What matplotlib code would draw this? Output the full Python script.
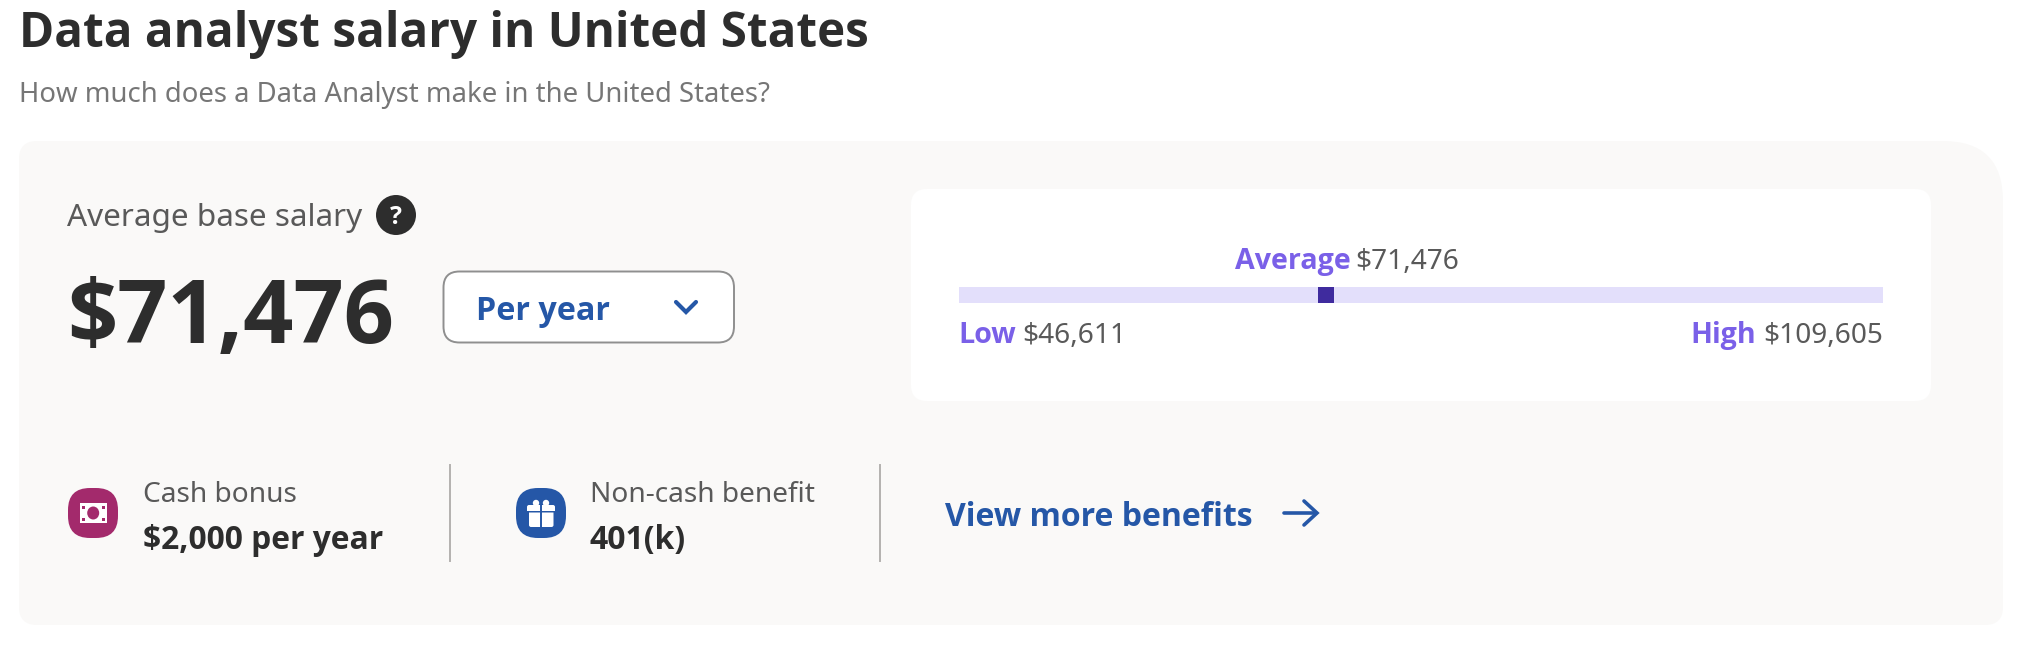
import matplotlib
matplotlib.use("Agg")
import matplotlib.pyplot as plt
from matplotlib.patches import Circle, Ellipse, PathPatch, Rectangle
from matplotlib.path import Path

# Salary values
low_salary = 46611
average_salary = 71476
high_salary = 109605

# Texts
title = "Data analyst salary in United States"
subtitle = "How much does a Data Analyst make in the United States?"
period = "Per year"
bonus_label = "Cash bonus"
bonus_value = "$2,000 per year"
benefit_label = "Non-cash benefit"
benefit_value = "401(k)"
more_link = "View more benefits"

# Colors
DARK = "#2d2d2d"
GRAY = "#767676"
TEXT = "#595959"
CARD = "#faf9f8"
PURPLE = "#7a60e8"
TRACK = "#e3dffb"
MARKER = "#3f2b9e"
BLUE = "#2557a7"
MAGENTA = "#a32a6c"
LINE = "#b4b2b0"

W, H = 2032, 648
plt.rcParams["font.family"] = ["Noto Sans", "DejaVu Sans"]

fig = plt.figure(figsize=(W / 100, H / 100), dpi=100, facecolor="white")

# full figure axes in pixel coordinates, y pointing down
ax = fig.add_axes([0, 0, 1, 1])
ax.set_xlim(0, W)
ax.set_ylim(H, 0)
ax.axis("off")


def round_box(x0, y0, x1, y1, radii, **kw):
    # radii: top left, top right, bottom right, bottom left
    tl, tr, br, bl = radii
    verts = [(x0 + tl, y0), (x1 - tr, y0), (x1, y0), (x1, y0 + tr),
             (x1, y1 - br), (x1, y1), (x1 - br, y1),
             (x0 + bl, y1), (x0, y1), (x0, y1 - bl),
             (x0, y0 + tl), (x0, y0), (x0 + tl, y0), (x0 + tl, y0)]
    codes = [Path.MOVETO, Path.LINETO, Path.CURVE3, Path.CURVE3,
             Path.LINETO, Path.CURVE3, Path.CURVE3,
             Path.LINETO, Path.CURVE3, Path.CURVE3,
             Path.LINETO, Path.CURVE3, Path.CURVE3, Path.CLOSEPOLY]
    patch = PathPatch(Path(verts, codes), **kw)
    ax.add_patch(patch)
    return patch


def label(x, y, s, size, color=TEXT, bold=False, ha="left"):
    # the installed Noto Sans has no bold face, Open Sans Bold is the closest
    if bold:
        ax.text(x, y, s, fontsize=size, color=color, family="Open Sans", fontweight="bold", ha=ha, va="baseline")
    else:
        ax.text(x, y, s, fontsize=size, color=color, ha=ha, va="baseline")


# Heading
label(19, 47, title, 34.25, DARK, True)
label(19, 102, subtitle, 19.8, GRAY)

# Card and white panel
round_box(19, 141, 2003, 625, (18, 60, 18, 18), facecolor=CARD, edgecolor="none")
round_box(911, 189, 1931, 401, (16, 16, 16, 16), facecolor="white", edgecolor="none")

# Left part
label(67, 226, "Average base salary", 22.7, TEXT)
ax.add_patch(Circle((396, 215), 20, facecolor=DARK, edgecolor="none"))
label(396, 224, "?", 18, "white", True, ha="center")
label(67, 343, f"${average_salary:,}", 63.4, DARK, True)

# Dropdown
round_box(443.5, 271.5, 734, 342.5, (16, 16, 16, 16), facecolor="white", edgecolor="#8f8f8f", linewidth=1.4)
label(476, 320, period, 23.2, BLUE, True)
ax.plot([676, 686, 696], [302, 312, 302], color=BLUE, lw=3, solid_capstyle="round", solid_joinstyle="miter")

# Salary range bar, drawn on its own axes so the marker follows the values
bar_ax = fig.add_axes([959 / W, 1 - 303 / H, (1883 - 959) / W, 16 / H])
bar_ax.set_xlim(low_salary, high_salary)
bar_ax.set_ylim(0, 1)
bar_ax.axis("off")
bar_ax.barh(0, high_salary - low_salary, left=low_salary, height=1, align="edge", color=TRACK)
marker_w = (high_salary - low_salary) * 16 / 924
bar_ax.barh(0, marker_w, left=average_salary - 0.35 * marker_w, height=1, align="edge", color=MARKER)

label(1235, 269, "Average", 20.6, PURPLE, True)
label(1355.5, 269, f"${average_salary:,}", 20.2, TEXT)
label(958, 343, "Low", 20.6, PURPLE, True)
label(1022, 343, f"${low_salary:,}", 20.2, TEXT)
label(1690, 343, "High", 20.6, PURPLE, True)
label(1883, 343, f"${high_salary:,}", 20.2, TEXT, ha="right")

# Benefits row
round_box(68, 488, 118, 538, (22, 22, 22, 22), facecolor=MAGENTA, edgecolor="none")
ax.add_patch(Rectangle((79.5, 503), 27.5, 20, facecolor="white", edgecolor="none"))
ax.add_patch(Rectangle((82, 505.5), 22.5, 15, facecolor=MAGENTA, edgecolor="none"))
ax.add_patch(Rectangle((84.5, 505.5), 17.5, 15, facecolor="white", edgecolor="none"))
ax.add_patch(Rectangle((82, 508.5), 22.5, 9, facecolor="white", edgecolor="none"))
ax.add_patch(Ellipse((93.2, 513), 12, 13, facecolor=MAGENTA, edgecolor="none"))
label(143, 502, bonus_label, 20.2, TEXT)
label(143, 549, bonus_value, 22.85, DARK, True)

ax.plot([450, 450], [465, 561], color=LINE, lw=1.4)

round_box(516, 488, 566, 538, (22, 22, 22, 22), facecolor=BLUE, edgecolor="none")
ax.add_patch(Circle((536, 503), 3.2, facecolor="white", edgecolor="none"))
ax.add_patch(Circle((546, 503), 3.2, facecolor="white", edgecolor="none"))
round_box(527, 505, 555, 511, (2, 2, 0, 0), facecolor="white", edgecolor="none")
round_box(529, 512.5, 553.5, 527, (0, 0, 2, 2), facecolor="white", edgecolor="none")
ax.plot([541, 541], [505, 527], color=BLUE, lw=1.4)
label(590.5, 502, benefit_label, 20.2, TEXT)
label(590, 549, benefit_value, 23, DARK, True)

ax.plot([880, 880], [465, 561], color=LINE, lw=1.4)

label(945, 526, more_link, 23.05, BLUE, True)
ax.plot([1284, 1316], [513, 513], color=BLUE, lw=2.6, solid_capstyle="round")
ax.plot([1304, 1317, 1304], [501, 513, 525], color=BLUE, lw=2.6, solid_capstyle="round", solid_joinstyle="miter")

fig.savefig("out.png", dpi=100, facecolor="white")
